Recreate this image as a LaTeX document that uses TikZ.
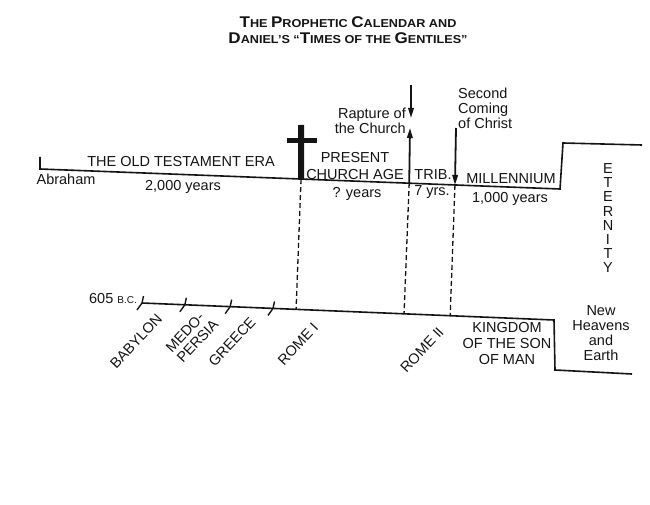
\documentclass[tikz,border=0pt]{standalone}
\definecolor{inkBlack}{HTML}{141414}
\usepackage{fontspec}
\setmainfont{Liberation Sans}
\newfontfamily\titleFont[FakeStretch=1.1, Ligatures=TeX]{Liberation Sans}
\usepackage{tikz}
\usetikzlibrary{calc, arrows.meta}
\newcommand{\bigCap}[1]{{\fontsize{15.5}{16}\selectfont #1}}
\tikzset{
  timeLine/.style={draw=inkBlack, line width=1.6pt, line join=miter},
  dashLine/.style={draw=inkBlack, line width=1.3pt, dash pattern=on 5pt off 3pt},
  eventArrow/.style={draw=inkBlack, line width=1.8pt, -{Triangle[length=10pt,width=5.5pt]}},
  tickMark/.style={draw=inkBlack, line width=1.4pt},
  lbl/.style={font=\fontsize{14.5}{15}\selectfont, inner sep=0pt, text=inkBlack},
  rotLabel/.style={lbl, rotate=47, align=left}
}

\begin{document}
\begin{tikzpicture}[x=1pt, y=-1pt]
        \useasboundingbox (0,0) rectangle (650,505);
        \node[lbl, anchor=north, align=center, font=\titleFont\fontsize{11.5}{16}\selectfont\bfseries] (title) at (348,16) {%
          \bigCap{T}HE \bigCap{P}ROPHETIC \bigCap{C}ALENDAR AND\\
          \bigCap{D}ANIEL'S ``\bigCap{T}IMES OF THE \bigCap{G}ENTILES''};

        \coordinate (otStart) at (40,157);
        \coordinate (otBase) at (40,169);
        \coordinate (milEnd) at (560,189);
        \coordinate (eterTop) at (563,143);
        \coordinate (eterEnd) at (642,145);
        \draw[timeLine] (otStart) -- (otBase) -- (milEnd) -- (eterTop) -- (eterEnd);

        \coordinate (bcStart) at (142,303);
        \coordinate (kingEnd) at (554,320);
        \coordinate (newDrop) at (555,370);
        \coordinate (newEnd) at (632,374);
        \draw[timeLine] (bcStart) -- (kingEnd) -- (newDrop) -- (newEnd);

        \foreach \t [count=\i] in {0,0.104,0.214,0.318} {
          \coordinate (tick\i) at ($(bcStart)!\t!(kingEnd)$);
          \draw[tickMark] ($(tick\i)+(1.5,-7)$) -- (tick\i) -- ++(-5,7);
        }

        \coordinate (crossFoot) at ($(otBase)!0.502!(milEnd)$);
        \coordinate (rapFoot) at ($(otBase)!0.710!(milEnd)$);
        \coordinate (secFoot) at ($(otBase)!0.798!(milEnd)$);
        \coordinate (romeOneMark) at ($(bcStart)!0.374!(kingEnd)$);
        \coordinate (romeTwoMark) at ($(bcStart)!0.636!(kingEnd)$);
        \coordinate (kingMark) at ($(bcStart)!0.748!(kingEnd)$);
        \draw[dashLine] (crossFoot) -- (romeOneMark);
        \draw[dashLine] (rapFoot) -- (romeTwoMark);
        \draw[dashLine] (secFoot) -- (kingMark);

        \coordinate (crossTop) at (301,125);
        \coordinate (barLeft) at (287,141);
        \coordinate (barRight) at (317,141);
        \draw[inkBlack, line width=6pt] (crossTop) -- (crossFoot);
        \draw[inkBlack, line width=5pt] (barLeft) -- (barRight);

        \coordinate (rapTip) at (410,128);
        \coordinate (rapHigh) at (411,85);
        \coordinate (rapLow) at (411,118);
        \coordinate (secHigh) at (456,128);
        \draw[eventArrow] (rapFoot) -- (rapTip);
        \draw[eventArrow] (rapHigh) -- (rapLow);
        \draw[eventArrow] (secHigh) -- (secFoot);

        \node[lbl, anchor=north east, align=right] (rapture) at (406,107.5) {Rapture of\\the Church};
        \node[lbl, anchor=north west, align=left] (second) at (458,87.5) {Second\\Coming\\of Christ};

        \node[lbl, anchor=base] (oldEra) at (181,167) {THE OLD TESTAMENT ERA};
        \node[lbl, anchor=base] (abraham) at (66,185) {Abraham};
        \node[lbl, anchor=base] (twoK) at (183,190) {2,000 years};
        \node[lbl, anchor=north, align=center, font=\fontsize{14.5}{16.5}\selectfont] (church) at (355,152.5) {PRESENT\\CHURCH AGE};
        \node[lbl, anchor=base] (qYears) at (357,197) {? years};
        \node[lbl, anchor=base] (trib) at (433,180) {TRIB.};
        \node[lbl, anchor=base] (sevenYrs) at (432,196) {7 yrs.};
        \node[lbl, anchor=base] (mill) at (511,183) {MILLENNIUM};
        \node[lbl, anchor=base] (oneK) at (510,202) {1,000 years};

        \foreach \ch [count=\i] in {E,T,E,R,N,I,T,Y}
          \node[lbl, anchor=base] (eter\i) at (608,{173.4+(\i-1)*14.2}) {\ch};

        \node[lbl, anchor=base east] (bc) at (137,303) {605 {\fontsize{10}{12}\selectfont B.C.}};

        \node[rotLabel] (babylon) at (136,341) {BABYLON};
        \node[rotLabel] (medoPersia) at (192,336) {MEDO-\\PERSIA};
        \node[rotLabel] (greece) at (232,342) {GREECE};
        \node[rotLabel] (romeOne) at (298,344) {ROME I};
        \node[rotLabel] (romeTwo) at (422,350) {ROME II};

        \node[lbl, anchor=north, align=center, font=\fontsize{14.5}{16}\selectfont] (kingdom) at (507,322.5) {KINGDOM\\OF THE SON\\OF MAN};
        \node[lbl, anchor=north, align=center] (newHeavens) at (601,305.5) {New\\Heavens\\and\\Earth};
      \end{tikzpicture}
\end{document}
